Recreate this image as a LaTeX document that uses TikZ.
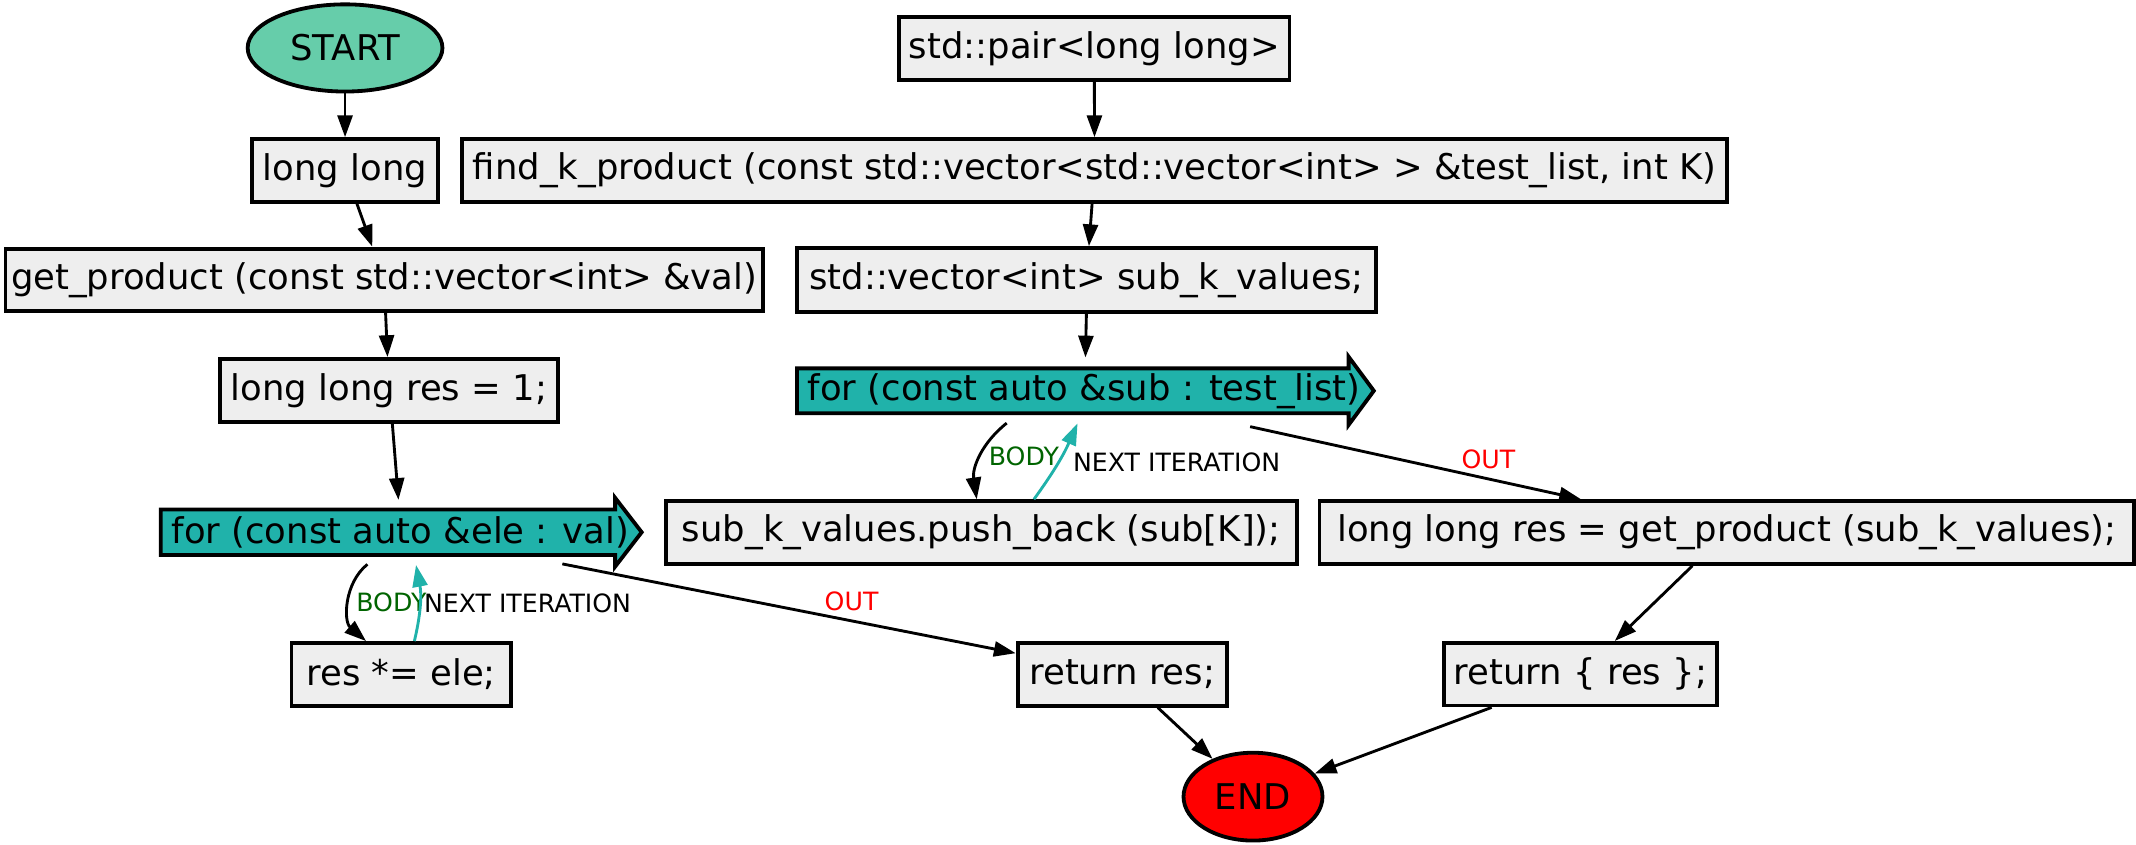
\documentclass[tikz,border=0pt]{standalone}
\usepackage{fontspec}
\setmainfont{DejaVu Sans}
\usetikzlibrary{shapes.geometric,arrows.meta,calc,backgrounds}
\definecolor{boxfill}{HTML}{EEEEEE}
\definecolor{startfill}{HTML}{66CDAA}
\definecolor{loopfill}{HTML}{20B2AA}
\definecolor{bodygreen}{HTML}{006400}
\newcommand{\dgnodefont}{\fontsize{26}{30}\selectfont}
\newcommand{\dglabelfont}{\fontsize{18.5}{22}\selectfont}
\begin{document}
\begin{tikzpicture}[x=1pt,y=-1pt,
  box/.style={draw, fill=boxfill, line width=2.8pt, inner sep=0pt, minimum height=46pt, font=\dgnodefont},
  oval/.style={draw, ellipse, line width=2.8pt, inner sep=0pt, font=\dgnodefont},
  forbody/.style={inner sep=0pt, outer sep=0pt, minimum height=33.5pt, font=\dgnodefont},
  loopshape/.style={fill=loopfill, draw=black, line width=2.8pt, line join=miter},
  edge/.style={line width=2.1pt, -{Triangle[length=16pt,width=11pt]}},
  nextedge/.style={edge, draw=loopfill, -{Triangle[length=16pt,width=11pt,fill=loopfill]}},
  lbl/.style={inner sep=0pt, font=\dglabelfont}]
\useasboundingbox (0,0) rectangle (1568,620);

% left column
\node[oval, fill=startfill, minimum width=143pt, minimum height=64pt] (start) at (253.3,35.2) {START};
\node[box, minimum width=137pt] (ll) at (253.3,125.1) {long long};
\node[box, minimum width=556pt] (gp) at (282,205.5) {get\_product (const std::vector<int> \&val)};
\node[box, minimum width=248pt] (lr1) at (285.5,286.5) {long long res = 1;};
\node[forbody, minimum width=333.5pt] (fe) at (284.8,390.7) {\makebox[333.5pt][l]{\hspace*{8pt}for (const auto \&ele : val)}};
\node[box, minimum width=161pt] (rese) at (294.5,495) {res *= ele;};
\node[box, minimum width=153.6pt] (retres) at (823.8,495) {return res;};
\node[oval, fill=red, minimum width=102pt, minimum height=64.5pt] (end) at (919.8,584.8) {END};

% right column
\node[box, minimum width=286.6pt] (pair) at (803.3,35.5) {std::pair<long long>};
\node[box, minimum width=929pt] (fkp) at (803.5,125.1) {find\_k\_product (const std::vector<std::vector<int> > \&test\_list, int K)};
\node[box, minimum width=425pt, minimum height=47pt] (skv) at (797.5,205.6) {std::vector<int> sub\_k\_values;};
\node[forbody, minimum width=405pt, minimum height=33pt] (fs) at (787.5,286.9) {\makebox[405pt][l]{\hspace*{8pt}for (const auto \&sub : test\_list)}};
\node[box, minimum width=463.4pt] (pb) at (720.3,390.9) {sub\_k\_values.push\_back (sub[K]);};
\node[box, minimum width=598pt] (llg) at (1267.6,390.9) {long long res = get\_product (sub\_k\_values);};
\node[box, minimum width=200.5pt] (retr) at (1160.2,494.9) {return \{ res \};};

\begin{scope}[on background layer]
\filldraw[loopshape] (fe.south west) -- (fe.north west) -- (fe.north east) -- ([yshift=8.5pt]fe.north east) -- ([xshift=19.5pt]fe.east) -- ([yshift=-8.5pt]fe.south east) -- (fe.south east) -- cycle;
\filldraw[loopshape] (fs.south west) -- (fs.north west) -- (fs.north east) -- ([yshift=8.5pt]fs.north east) -- ([xshift=18.5pt]fs.east) -- ([yshift=-8.5pt]fs.south east) -- (fs.south east) -- cycle;
\end{scope}

% edges left
\draw[edge] (start) -- (ll);
\draw[edge] (ll) -- (gp);
\draw[edge] (gp) -- (lr1);
\draw[edge] ([xshift=2.5pt]lr1.south) -- ([xshift=7.7pt,yshift=7pt]fe.north);
\draw[edge] ([xshift=-15.1pt,yshift=-6.8pt]fe.south) to[bend right=50] node[lbl, pos=0.5, anchor=west, xshift=4pt, text=bodygreen] {BODY} ([xshift=-25.8pt]rese.north);
\draw[nextedge] ([xshift=9.7pt]rese.north) to[bend right=12] node[lbl, pos=0.5, anchor=west, xshift=2pt] {NEXT ITERATION} ([xshift=20.6pt,yshift=-7.3pt]fe.south);
\draw[edge] ([xshift=128pt,yshift=-6.5pt]fe.south) -- node[lbl, pos=0.638, yshift=14pt, text=red] {OUT} ([yshift=15.5pt]retres.west);
\draw[edge] (retres) -- (end);

% edges right
\draw[edge] (pair) -- (fkp);
\draw[edge] (fkp) -- (skv);
\draw[edge] (skv.south) -- ([xshift=9.3pt,yshift=8pt]fs.north);
\draw[edge] ([xshift=-48.5pt,yshift=-7.2pt]fs.south) to[bend right=30] node[lbl, pos=0.5, anchor=west, xshift=5pt, text=bodygreen] {BODY} ([xshift=-3.3pt]pb.north);
\draw[nextedge] ([xshift=38.7pt]pb.north) to[bend right=6] node[lbl, pos=0.5, anchor=west, xshift=10pt] {NEXT ITERATION} ([xshift=3.5pt,yshift=-7.4pt]fs.south);
\draw[edge] ([xshift=130.2pt,yshift=-9.8pt]fs.south) -- node[lbl, pos=0.72, yshift=14.5pt, text=red] {OUT} ([xshift=-107pt]llg.north);
\draw[edge] (llg) -- (retr);
\draw[edge] (retr) -- (end);
\end{tikzpicture}
\end{document}
